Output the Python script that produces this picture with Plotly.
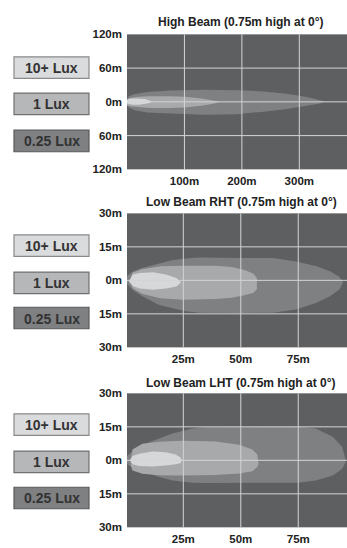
import plotly.graph_objects as go

W, H = 347, 548

# ---------------- text / ticks ----------------
titles = ["High Beam (0.75m high at 0°)",
          "Low Beam RHT (0.75m high at 0°)",
          "Low Beam LHT (0.75m high at 0°)"]
legend_labels = ["10+ Lux", "1 Lux", "0.25 Lux"]

hb_x_ticks = [100, 200, 300]
hb_x_labels = ["100m", "200m", "300m"]
hb_y_ticks = [120, 60, 0, -60, -120]
hb_y_labels = ["120m", "60m", "0m", "60m", "120m"]
hb_y_grid = [60, 0, -60]

lb_x_ticks = [25, 50, 75]
lb_x_labels = ["25m", "50m", "75m"]
lb_y_ticks = [30, 15, 0, -15, -30]
lb_y_labels = ["30m", "15m", "0m", "15m", "30m"]
lb_y_grid = [15, 0, -15]

# ---------------- beam contours (distance m, upper m, lower m) ----------------
# High beam
hb_025_x = [0, 2, 12, 35, 75, 133, 191, 238, 278, 313, 336, 345]
hb_025_up = [6, 9, 13.4, 17.4, 20, 21.4, 20.5, 18.6, 14.4, 8.7, 2.8, 0]
hb_025_lo = [-6, -9, -14.5, -19, -21.4, -23, -22, -17.4, -12.7, -7, -3, 0]

hb_1_x = [0, 5, 20, 40, 75, 100, 130, 150, 162]
hb_1_up = [4, 7, 9, 10, 10, 9, 6, 3, 0]
hb_1_lo = [-5, -8, -10, -11, -11, -10, -7, -3.5, 0]

hb_10_x = [0, 3, 10, 20, 30, 38, 43]
hb_10_up = [3, 5, 6, 6, 5, 3, 0]
hb_10_lo = [-3, -4.5, -5, -5, -4, -2.5, 0]

# Low beam RHT
rht_025_x = [0.5, 3, 7, 14.5, 20, 26, 32, 50, 64, 74, 83, 89, 93, 94.5]
rht_025_up = [2, 4, 5.5, 7.5, 9, 9.8, 10.2, 10, 10, 8.5, 6.3, 4, 1.5, -1]
rht_025_lo = [-1.5, -4.3, -7, -11, -12.5, -13.8, -14.5, -14.6, -14.5, -13, -10, -7, -4, -1]

rht_1_x = [1.8, 3, 7, 15, 25, 39, 46, 52, 55.5, 57]
rht_1_up = [0, 3.5, 5, 6.3, 6.5, 6.5, 6, 4.5, 3, 1]
rht_1_lo = [0, -3.5, -6, -8, -8.7, -8.4, -7.8, -6.5, -5.5, -4]

rht_10_x = [1.3, 3, 6, 11.7, 17.5, 22, 24]
rht_10_up = [-0.5, 2.6, 3.3, 3.6, 2.6, 1.1, -1]
rht_10_lo = [-0.5, -2.5, -3.6, -4.2, -3.6, -2.8, -1]

# Low beam LHT
lht_025_x = [0.5, 2.9, 7.2, 14.5, 20.3, 29, 34.8, 75, 82.6, 90, 94, 95.6]
lht_025_up = [1.9, 4, 7, 9.9, 12, 14.2, 14.9, 15.2, 14.2, 10.6, 6.2, 0.5]
lht_025_lo = [-1.7, -3.2, -5, -7.5, -9, -10, -10.2, -10, -9, -6.8, -3.9, -1]

lht_1_x = [2.2, 2.9, 7.2, 14.5, 24.6, 39, 49.3, 55, 57.2, 57.7]
lht_1_up = [0, 4.8, 7.4, 8.3, 8.8, 8.4, 7, 4.8, 2.6, -1]
lht_1_lo = [-2.5, -4.5, -6, -6.7, -6.8, -6.6, -5.9, -4.9, -3, -1.5]

lht_10_x = [1.7, 2.9, 5.8, 11.6, 17.4, 21.7, 23.9, 24.3]
lht_10_up = [0, 1.9, 3, 3.9, 3.6, 2.6, 1.2, 0]
lht_10_lo = [0, -1.7, -2.5, -2.8, -2.3, -1.8, -1.2, 0]

# ---------------- styling ----------------
BG = "#5e5f61"
FILL = {"025": "#7f8082", "1": "#a8a9ab", "10": "#d6d7d9"}
GRID = "#d4d4d4"
TXT = "#222222"
FONT = "Liberation Sans, Arial, sans-serif"

LEG_FILL = ["#dadbdc", "#b6b7b9", "#7f8082"]
LEG_LINE = ["#8a8a8a", "#707072", "#58595b"]

panels = [
    dict(title=titles[0], xr=[0, 383], yr=[-120, 120],
         xt=hb_x_ticks, xl=hb_x_labels, yt=hb_y_ticks, yl=hb_y_labels, yg=hb_y_grid,
         shapes=[(hb_025_x, hb_025_up, hb_025_lo, "025"),
                 (hb_1_x, hb_1_up, hb_1_lo, "1"),
                 (hb_10_x, hb_10_up, hb_10_lo, "10")],
         top=29, bot=167, ty=16, leg=[52, 89, 127]),
    dict(title=titles[1], xr=[0.5, 96.2], yr=[-30, 30],
         xt=lb_x_ticks, xl=lb_x_labels, yt=lb_y_ticks, yl=lb_y_labels, yg=lb_y_grid,
         shapes=[(rht_025_x, rht_025_up, rht_025_lo, "025"),
                 (rht_1_x, rht_1_up, rht_1_lo, "1"),
                 (rht_10_x, rht_10_up, rht_10_lo, "10")],
         top=212, bot=349, ty=200, leg=[234, 272, 308]),
    dict(title=titles[2], xr=[0.5, 96.2], yr=[-30, 30],
         xt=lb_x_ticks, xl=lb_x_labels, yt=lb_y_ticks, yl=lb_y_labels, yg=lb_y_grid,
         shapes=[(lht_025_x, lht_025_up, lht_025_lo, "025"),
                 (lht_1_x, lht_1_up, lht_1_lo, "1"),
                 (lht_10_x, lht_10_up, lht_10_lo, "10")],
         top=396, bot=533, ty=385, leg=[417, 455, 492]),
]

fig = go.Figure()
layout = dict(width=W, height=H, margin=dict(l=0, r=0, t=0, b=0),
              paper_bgcolor="white", plot_bgcolor=BG, showlegend=False,
              font=dict(family=FONT, size=12, color=TXT))
shapes = []
annotations = []

PLOT_L = 127

for i, p in enumerate(panels):
    n = "" if i == 0 else str(i + 1)
    xa, ya = "x" + n, "y" + n
    for xs, up, lo, key in p["shapes"]:
        fig.add_trace(go.Scatter(
            x=list(xs) + list(xs)[::-1], y=list(up) + list(lo)[::-1],
            xaxis=xa, yaxis=ya, mode="lines", line=dict(width=0),
            fill="toself", fillcolor=FILL[key], hoverinfo="skip"))
    layout["xaxis" + n] = dict(
        domain=[PLOT_L / W, 1], range=p["xr"], anchor=ya,
        tickvals=p["xt"], ticktext=p["xl"], showgrid=False, zeroline=False,
        showline=False, ticks="", ticklabelstandoff=3, fixedrange=True,
        tickfont=dict(family=FONT, size=11.5, color=TXT, weight="bold"))
    layout["yaxis" + n] = dict(
        domain=[1 - p["bot"] / H, 1 - p["top"] / H], range=p["yr"], anchor=xa,
        tickvals=p["yt"], ticktext=p["yl"], showgrid=False, zeroline=False,
        showline=False, ticks="", ticklabelstandoff=4, fixedrange=True,
        tickfont=dict(family=FONT, size=11.5, color=TXT, weight="bold"))
    # gridlines drawn above the beam fills
    for gx in p["xt"]:
        shapes.append(dict(type="line", xref=xa, yref=ya + " domain",
                           x0=gx, x1=gx, y0=0, y1=1, layer="above",
                           line=dict(color=GRID, width=1)))
    for gy in p["yg"]:
        shapes.append(dict(type="line", xref=xa + " domain", yref=ya,
                           x0=0, x1=1, y0=gy, y1=gy, layer="above",
                           line=dict(color=GRID, width=1)))
    # title
    annotations.append(dict(text="<b>" + p["title"] + "</b>", xref="paper", yref="paper",
                            x=241 / W, y=1 - p["ty"] / H, xanchor="center", yanchor="middle",
                            showarrow=False, font=dict(family=FONT, size=12, color=TXT)))
    # legend boxes
    for j, lab in enumerate(legend_labels):
        t = p["leg"][j]
        b = t + 22
        shapes.append(dict(type="rect", xref="paper", yref="paper",
                           x0=14 / W, x1=89 / W, y0=1 - b / H, y1=1 - t / H,
                           fillcolor=LEG_FILL[j], line=dict(color=LEG_LINE[j], width=1.2),
                           layer="above"))
        annotations.append(dict(text="<b>" + lab + "</b>", xref="paper", yref="paper",
                                x=51.5 / W, y=1 - (t + 11.5) / H, xanchor="center",
                                yanchor="middle", showarrow=False,
                                font=dict(family=FONT, size=14, color="#333333")))

layout["shapes"] = shapes
layout["annotations"] = annotations
fig.update_layout(**layout)
fig.write_html("out.html", config={"displayModeBar": False},
               post_script="document.body.style.margin='0px';")
